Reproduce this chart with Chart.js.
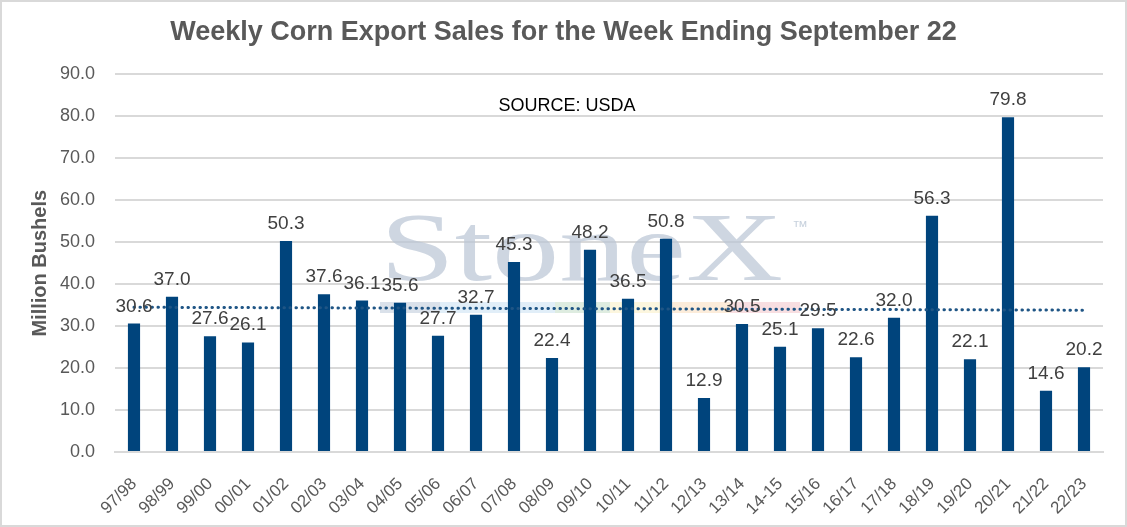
<!DOCTYPE html>
<html>
<head>
<meta charset="utf-8">
<script src="https://cdn.jsdelivr.net/npm/chart.js@4.4.1/dist/chart.umd.min.js"></script>
<style>
  html, body { margin: 0; padding: 0; background: #ffffff; }
  canvas { display: block; }
</style>
</head>
<body>
<canvas id="cornChart" width="1127" height="527"></canvas>
<script>
// marketing years on the x axis
const years = ['97/98', '98/99', '99/00', '00/01', '01/02', '02/03', '03/04', '04/05', '05/06',
  '06/07', '07/08', '08/09', '09/10', '10/11', '11/12', '12/13', '13/14', '14-15', '15/16',
  '16/17', '17/18', '18/19', '19/20', '20/21', '21/22', '22/23'];

// weekly export sales, million bushels
const sales = [30.6, 37.0, 27.6, 26.1, 50.3, 37.6, 36.1, 35.6, 27.7, 32.7, 45.3, 22.4, 48.2,
  36.5, 50.8, 12.9, 30.5, 25.1, 29.5, 22.6, 32.0, 56.3, 22.1, 79.8, 14.6, 20.2];

// dotted trend line at the first and last year
const trendEnds = [34.5, 33.8];

const yTicks = [0, 10, 20, 30, 40, 50, 60, 70, 80, 90];

const trend = years.map((y, i) => i === 0 ? trendEnds[0] : (i === years.length - 1 ? trendEnds[1] : null));

const FONT = '"Liberation Sans", Arial, sans-serif';

// frame round the whole picture
const framePlugin = {
  id: 'frame',
  afterDraw(chart) {
    const ctx = chart.ctx;
    ctx.save();
    ctx.strokeStyle = '#d9d9d9';
    ctx.lineWidth = 2;
    ctx.strokeRect(1, 1, chart.width - 2, chart.height - 2);
    ctx.restore();
  }
};

// faint StoneX logo and the source note behind the bars
const watermarkPlugin = {
  id: 'watermark',
  beforeDatasetsDraw(chart) {
    const ctx = chart.ctx;
    ctx.save();
    // colour band under the logo
    const bandColors = ['rgba(150,170,195,0.35)', 'rgba(170,205,235,0.35)', 'rgba(160,200,165,0.35)',
      'rgba(245,230,160,0.35)', 'rgba(245,200,150,0.35)', 'rgba(235,160,170,0.35)'];
    const bandW = [60, 115, 55, 60, 60, 70];
    let bx = 380;
    bandColors.forEach((c, i) => {
      ctx.fillStyle = c;
      ctx.fillRect(bx, 302, bandW[i], 11);
      bx += bandW[i];
    });
    ctx.fillStyle = 'rgba(185,197,212,0.7)';
    ctx.font = '98px "Liberation Serif", serif';
    ctx.textBaseline = 'alphabetic';
    const w = ctx.measureText('StoneX').width;
    ctx.translate(380, 280);
    ctx.scale(403 / w, 1);
    ctx.fillText('StoneX', 0, 0);
    ctx.restore();
    ctx.save();
    ctx.fillStyle = 'rgba(185,197,212,0.8)';
    ctx.font = '16px ' + FONT;
    ctx.fillText('\u2122', 792, 232);
    ctx.fillStyle = '#000000';
    ctx.font = '18px ' + FONT;
    ctx.textAlign = 'center';
    ctx.textBaseline = 'middle';
    ctx.fillText('SOURCE: USDA', 567, 106);
    ctx.restore();
  }
};

// value labels on top of the bars
const barLabelPlugin = {
  id: 'barLabels',
  afterDatasetsDraw(chart) {
    const ctx = chart.ctx;
    const meta = chart.getDatasetMeta(0);
    ctx.save();
    ctx.fillStyle = '#404040';
    ctx.font = '19px ' + FONT;
    ctx.textAlign = 'center';
    ctx.textBaseline = 'alphabetic';
    meta.data.forEach((bar, i) => {
      ctx.fillText(sales[i].toFixed(1), bar.x, bar.y - 12);
    });
    ctx.restore();
  }
};

const ctx = document.getElementById('cornChart').getContext('2d');
const cornChart = new Chart(ctx, {
  type: 'bar',
  data: {
    labels: years,
    datasets: [{
      label: 'Weekly Export Sales',
      data: sales,
      backgroundColor: '#00447c',
      categoryPercentage: 1.0,
      barPercentage: 0.32,
      order: 2
    }, {
      type: 'line',
      label: 'Trend',
      data: trend,
      spanGaps: true,
      borderColor: '#1f5585',
      borderWidth: 3,
      borderDash: [0.5, 5.5],
      borderCapStyle: 'round',
      pointRadius: 0,
      fill: false,
      order: 1
    }]
  },
  options: {
    responsive: false,
    animation: false,
    layout: { padding: { left: 24, right: 24, top: 0, bottom: 0 } },
    plugins: {
      legend: { display: false },
      tooltip: { enabled: false },
      title: {
        display: true,
        text: 'Weekly Corn Export Sales for the Week Ending September 22',
        color: '#595959',
        font: { family: FONT, size: 27, weight: 'bold' },
        padding: { top: 16, bottom: 26 }
      }
    },
    scales: {
      x: {
        grid: { display: false },
        border: { color: '#d9d9d9', width: 2 },
        afterFit(scale) { scale.height = 75; },
        ticks: {
          color: '#595959',
          font: { family: FONT, size: 17 },
          minRotation: 45,
          maxRotation: 45,
          padding: 14
        }
      },
      y: {
        min: 0,
        max: 90,
        afterBuildTicks(scale) { scale.ticks = yTicks.map(v => ({ value: v })); },
        afterFit(scale) { scale.width = 91; },
        grid: { color: '#d9d9d9', lineWidth: 2, drawTicks: false },
        border: { display: false },
        ticks: {
          color: '#595959',
          font: { family: FONT, size: 18 },
          padding: 20,
          callback: v => v.toFixed(1)
        },
        title: {
          display: true,
          text: 'Million Bushels',
          color: '#595959',
          font: { family: FONT, size: 20, weight: 'bold' },
          padding: { top: 4, bottom: 0 }
        }
      }
    }
  },
  plugins: [framePlugin, watermarkPlugin, barLabelPlugin]
});
</script>
</body>
</html>
